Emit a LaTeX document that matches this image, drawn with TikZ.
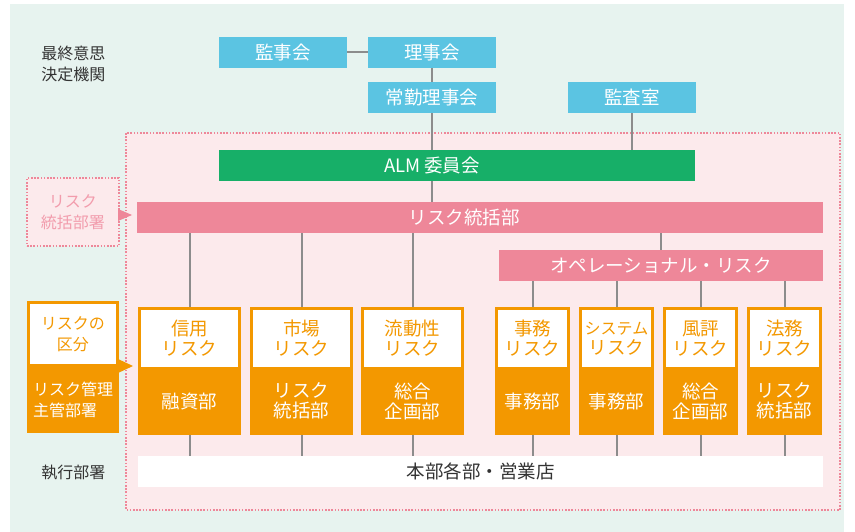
\documentclass[tikz,border=0pt]{standalone}
\usepackage{fontspec}
\setmainfont{Noto Sans CJK JP}
\definecolor{bgG}{HTML}{E7F3EF}
\definecolor{bgP}{HTML}{FCEAEC}
\definecolor{cBlue}{HTML}{5BC4E2}
\definecolor{cGreen}{HTML}{17AF68}
\definecolor{cPink}{HTML}{EE8799}
\definecolor{cPinkT}{HTML}{F29CAC}
\definecolor{cOrange}{HTML}{F39800}
\definecolor{cLine}{HTML}{8C8C8C}
\definecolor{cText}{HTML}{333333}
\newcommand\fa{\fontsize{18.5}{20}\selectfont}
\newcommand\fb{\fontsize{16}{21}\selectfont}
\newcommand\fc{\fontsize{16}{20}\selectfont}
\tikzset{
  bluebox/.style={fill=cBlue, text=white, minimum width=128pt, minimum height=31pt, inner sep=0pt, font=\fa},
  barbox/.style={minimum height=31pt, inner sep=0pt, font=\fa},
  labtext/.style={text=white, font=\fa, inner sep=0pt},
  obx/.style={fill=cOrange, minimum height=128pt, inner sep=0pt},
  wbx/.style={fill=white, minimum height=57pt, inner sep=0pt, text=cOrange, align=center, font=\fa},
  obtext/.style={text=white, align=center, font=\fa, inner sep=0pt},
  sidetext/.style={text=cText, align=center, font=\fb, inner sep=0pt},
  conn/.style={draw=cLine, line width=2pt},
  pinkdash/.style={draw=cPink, line width=1.1pt, dash pattern=on 1.6pt off 1.6pt},
}
\newcommand\riskbox[5]{%
  \node[obx, minimum width=#3pt] (#1) at (#2,371) {};
  \node[wbx, minimum width=#3pt-6pt, anchor=north] (#1t) at ([yshift=-3pt]#1.north) {#4};
  \node[obtext] (#1b) at (#2,401) {#5};
}
\begin{document}
\begin{tikzpicture}[x=1pt,y=-1pt]
\useasboundingbox (0,0) rectangle (855,532);
\fill[bgG] (10,4) rectangle (844,532);
\path[pinkdash, fill=bgP] (126,133) rectangle (840,510);

% side labels
\node[sidetext] (saishu) at (73.5,63.5) {最終意思\\決定機関};
\node[sidetext] (shikko) at (73.5,473) {執行部署};
\node[pinkdash, fill=bgP, minimum width=92pt, minimum height=68pt, text=cPinkT, align=center, font=\fb, inner sep=0pt] (togatsu) at (73,212) {リスク\\統括部署};
\fill[cPink] (118,209) -- (132,215) -- (118,221) -- cycle;

\node[obx, minimum width=92pt, minimum height=132pt] (kubun) at (73,367) {};
\node[wbx, minimum width=86pt, minimum height=60pt, font=\fb, anchor=north] (kubunt) at ([yshift=-3pt]kubun.north) {リスクの\\区分};
\node[obtext, font=\fb, align=left, anchor=west] (kubunb) at (33,400) {リスク管理\\主管部署};
\fill[cOrange] (118,359) -- (133,366) -- (118,373) -- cycle;

% top boxes
\node[bluebox] (kanji) at (283,52.5) {監事会};
\node[bluebox] (riji) at (432,52.5) {理事会};
\node[bluebox] (jokin) at (432,97.5) {常勤理事会};
\node[bluebox] (kansa) at (632,97.5) {監査室};
\node[barbox, fill=cGreen, minimum width=476pt] (alm) at (457,165.5) {};
\node[labtext] (almt) at (432,165.5) {ALM 委員会};

\node[barbox, fill=cPink, minimum width=686pt] (riskbar) at (480,217.5) {};
\node[labtext] (riskbart) at (464,217.5) {リスク統括部};
\node[barbox, fill=cPink, minimum width=324pt, text=white] (opbar) at (661,265.5) {オペレーショナル・リスク};

% risk boxes
\riskbox{b1}{189.5}{103}{信用\\リスク}{融資部}
\riskbox{b2}{301.5}{103}{市場\\リスク}{リスク\\統括部}
\riskbox{b3}{412.5}{103}{流動性\\リスク}{総合\\企画部}
\riskbox{b4}{532.5}{75}{事務\\リスク}{事務部}
\riskbox{b5}{616.5}{75}{{\fc システム}\\リスク}{事務部}
\riskbox{b6}{700.5}{75}{風評\\リスク}{総合\\企画部}
\riskbox{b7}{784.5}{75}{法務\\リスク}{リスク\\統括部}

\node[barbox, fill=white, minimum width=685pt, text=cText] (honbu) at (480.5,471.5) {本部各部・営業店};

% connectors
\draw[conn] (kanji.east) -- (riji.west);
\draw[conn] (riji.south) -- (jokin.north);
\draw[conn] (jokin.south) -- (jokin.south |- alm.north);
\draw[conn] (jokin.south |- alm.south) -- (jokin.south |- riskbar.north);
\draw[conn] (kansa.south) -- (kansa.south |- alm.north);
\draw[conn] (opbar.north) -- (opbar.north |- riskbar.south);
\foreach \b in {b1,b2,b3} {
  \draw[conn] (\b.north |- riskbar.south) -- (\b.north);
}
\foreach \b in {b4,b5,b6,b7} {
  \draw[conn] (\b.north |- opbar.south) -- (\b.north);
}
\foreach \b in {b1,b2,b3,b4,b5,b6,b7} {
  \draw[conn] (\b.south) -- (\b.south |- honbu.north);
}
\end{tikzpicture}
\end{document}
